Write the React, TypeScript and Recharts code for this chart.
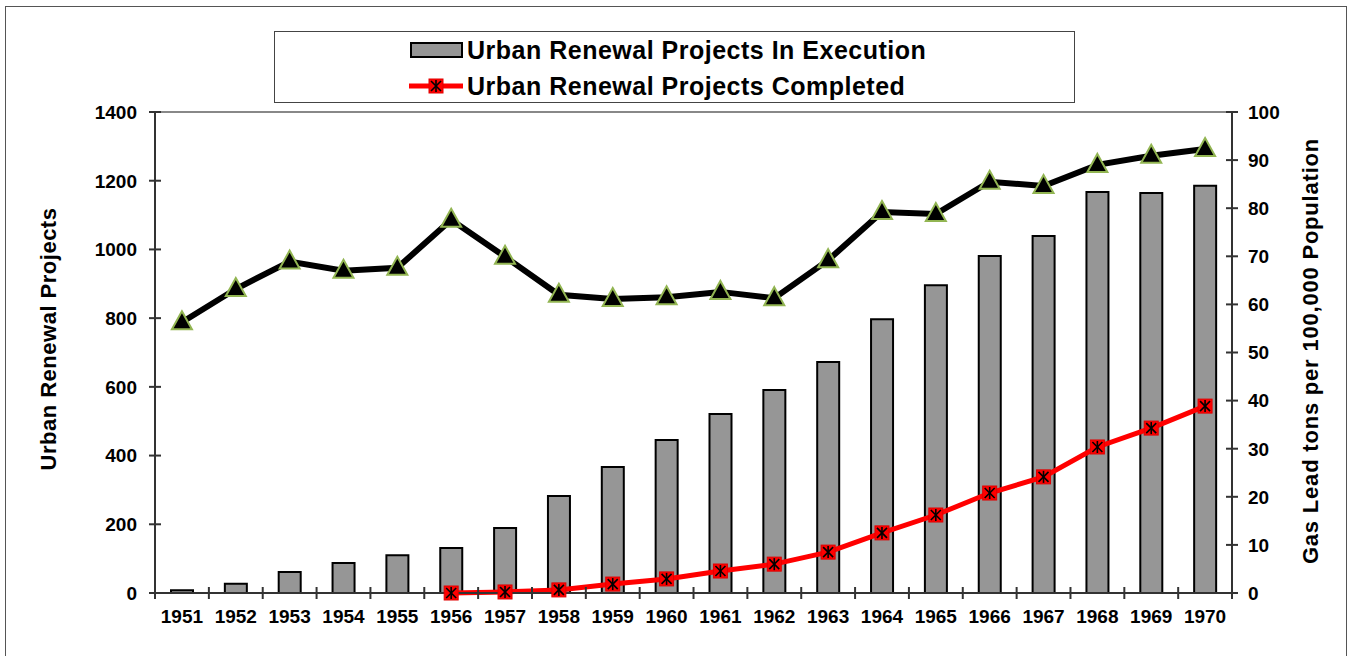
import { Bar, ComposedChart, Line, ReferenceLine, XAxis, YAxis } from "recharts";

const years = ["1951", "1952", "1953", "1954", "1955", "1956", "1957", "1958", "1959", "1960", "1961", "1962", "1963", "1964", "1965", "1966", "1967", "1968", "1969", "1970"];
const inExecution = [8, 27, 61, 87, 110, 131, 189, 282, 367, 445, 521, 591, 672, 797, 896, 981, 1039, 1167, 1164, 1185];
const completed = [null, null, null, null, null, 0, 3, 9, 26, 41, 64, 84, 119, 175, 227, 291, 338, 425, 480, 544];
const gasLead = [56.3, 63.2, 68.9, 67.0, 67.6, 77.6, 69.9, 62.0, 61.1, 61.5, 62.6, 61.3, 69.2, 79.2, 78.8, 85.5, 84.6, 89.0, 90.9, 92.3];
const leftTicks = [0, 200, 400, 600, 800, 1000, 1200, 1400];
const rightTicks = [0, 10, 20, 30, 40, 50, 60, 70, 80, 90, 100];

const data = years.map((year, i) => ({
  year,
  inExecution: inExecution[i],
  completed: completed[i],
  gasLead: gasLead[i],
}));

const FONT = "Arial, 'Liberation Sans', sans-serif";
const AXIS = "#333";
const HALF_BAND = 26.9;

function XTick(props: any) {
  const { x, y, payload, index } = props;
  return (
    <g>
      <line x1={x - HALF_BAND} x2={x - HALF_BAND} y1={y - 6} y2={y + 6} stroke={AXIS} strokeWidth={2} />
      {index === years.length - 1 && (
        <line x1={x + HALF_BAND} x2={x + HALF_BAND} y1={y - 6} y2={y + 6} stroke={AXIS} strokeWidth={2} />
      )}
      <text x={x} y={y + 30} textAnchor="middle" fontFamily={FONT} fontWeight="bold" fontSize={19} fill="#000">
        {payload.value}
      </text>
    </g>
  );
}

function LeftTick(props: any) {
  const { x, y, payload } = props;
  return (
    <g>
      <line x1={x - 6} x2={x + 6} y1={y} y2={y} stroke={AXIS} strokeWidth={2} />
      <text x={x - 18} y={y} dy="0.36em" textAnchor="end" fontFamily={FONT} fontWeight="bold" fontSize={19} fill="#000">
        {payload.value}
      </text>
    </g>
  );
}

function RightTick(props: any) {
  const { x, y, payload } = props;
  return (
    <g>
      <line x1={x - 6} x2={x + 6} y1={y} y2={y} stroke={AXIS} strokeWidth={2} />
      <text x={x + 16} y={y} dy="0.36em" textAnchor="start" fontFamily={FONT} fontWeight="bold" fontSize={19} fill="#000">
        {payload.value}
      </text>
    </g>
  );
}

function StarMark({ cx, cy }: { cx: number; cy: number }) {
  const s = 7;
  return (
    <g>
      <rect x={cx - s} y={cy - s} width={s * 2} height={s * 2} fill="#ff0000" stroke="#e00000" strokeWidth={1} />
      <line x1={cx - 5} y1={cy - 5} x2={cx + 5} y2={cy + 5} stroke="#000" strokeWidth={1.6} />
      <line x1={cx - 5} y1={cy + 5} x2={cx + 5} y2={cy - 5} stroke="#000" strokeWidth={1.6} />
      <line x1={cx} y1={cy - 6} x2={cx} y2={cy + 6} stroke="#000" strokeWidth={1.6} />
    </g>
  );
}

function StarDot(props: any) {
  const { cx, cy, value } = props;
  if (value == null || cx == null || cy == null) return <g />;
  return <StarMark cx={cx} cy={cy} />;
}

function TriangleDot(props: any) {
  const { cx, cy } = props;
  if (cx == null || cy == null) return <g />;
  return (
    <polygon
      points={`${cx},${cy - 11} ${cx + 10},${cy + 7} ${cx - 10},${cy + 7}`}
      fill="#000"
      stroke="#92b552"
      strokeWidth={2}
      strokeLinejoin="miter"
    />
  );
}

function LegendBox() {
  const text = { fontFamily: FONT, fontWeight: "bold" as const, fontSize: 25, letterSpacing: 0.5, color: "#000" };
  return (
    <div
      style={{
        position: "absolute",
        left: 274,
        top: 31,
        width: 801,
        height: 72,
        border: "1px solid #444",
        background: "#fff",
        boxSizing: "border-box",
      }}
    >
      <div style={{ position: "absolute", left: 134, top: 3, display: "flex", alignItems: "center", height: 30 }}>
        <svg width={56} height={20}>
          <rect x={2} y={3} width={51} height={14} fill="#969696" stroke="#000" strokeWidth={2} />
        </svg>
        <span style={{ ...text, marginLeft: 2 }}>Urban Renewal Projects In Execution</span>
      </div>
      <div style={{ position: "absolute", left: 134, top: 39, display: "flex", alignItems: "center", height: 30 }}>
        <svg width={56} height={20}>
          <line x1={0} y1={10} x2={54} y2={10} stroke="#ff0000" strokeWidth={5} />
          <StarMark cx={27} cy={10} />
        </svg>
        <span style={{ ...text, marginLeft: 2 }}>Urban Renewal Projects Completed</span>
      </div>
    </div>
  );
}

export default function App() {
  return (
    <div style={{ position: "absolute", left: 0, top: 0, width: 1348, height: 656, overflow: "hidden", background: "#fff" }}>
      <div
        style={{
          position: "absolute",
          left: 5,
          top: 6,
          width: 1342,
          height: 660,
          border: "1px solid #555",
          boxSizing: "border-box",
        }}
      />
      <ComposedChart
        width={1348}
        height={656}
        data={data}
        margin={{ top: 112, right: 36, bottom: 33, left: 75 }}
        style={{ position: "absolute", left: 0, top: 0 }}
      >
        <XAxis
          dataKey="year"
          height={30}
          tickSize={0}
          tickMargin={0}
          tickLine={false}
          tick={<XTick />}
          interval={0}
          axisLine={{ stroke: AXIS, strokeWidth: 2 }}
        />
        <YAxis
          yAxisId="left"
          width={80}
          domain={[0, 1400]}
          ticks={leftTicks}
          tickSize={0}
          tickMargin={0}
          tickLine={false}
          tick={<LeftTick />}
          axisLine={{ stroke: AXIS, strokeWidth: 2 }}
        />
        <YAxis
          yAxisId="right"
          orientation="right"
          width={80}
          domain={[0, 100]}
          ticks={rightTicks}
          tickSize={0}
          tickMargin={0}
          tickLine={false}
          tick={<RightTick />}
          axisLine={{ stroke: AXIS, strokeWidth: 2 }}
        />
        <ReferenceLine yAxisId="left" y={1400} stroke="#888" strokeWidth={2} />
        <Bar
          yAxisId="left"
          dataKey="inExecution"
          barSize={22}
          fill="#969696"
          stroke="#000"
          strokeWidth={2}
          isAnimationActive={false}
        />
        <Line
          yAxisId="left"
          dataKey="completed"
          stroke="#ff0000"
          strokeWidth={5}
          dot={<StarDot />}
          activeDot={false}
          isAnimationActive={false}
        />
        <Line
          yAxisId="right"
          dataKey="gasLead"
          stroke="#000"
          strokeWidth={6}
          dot={<TriangleDot />}
          activeDot={false}
          isAnimationActive={false}
        />
      </ComposedChart>
      <LegendBox />
      <div
        style={{
          position: "absolute",
          left: 49,
          top: 339,
          transform: "translate(-50%, -50%) rotate(-90deg)",
          whiteSpace: "nowrap",
          fontFamily: FONT,
          fontWeight: "bold",
          fontSize: 22,
          letterSpacing: 0.5,
        }}
      >
        Urban Renewal Projects
      </div>
      <div
        style={{
          position: "absolute",
          left: 1311,
          top: 351,
          transform: "translate(-50%, -50%) rotate(-90deg)",
          whiteSpace: "nowrap",
          fontFamily: FONT,
          fontWeight: "bold",
          fontSize: 22,
          letterSpacing: 0.8,
        }}
      >
        Gas Lead tons per 100,000 Population
      </div>
    </div>
  );
}
